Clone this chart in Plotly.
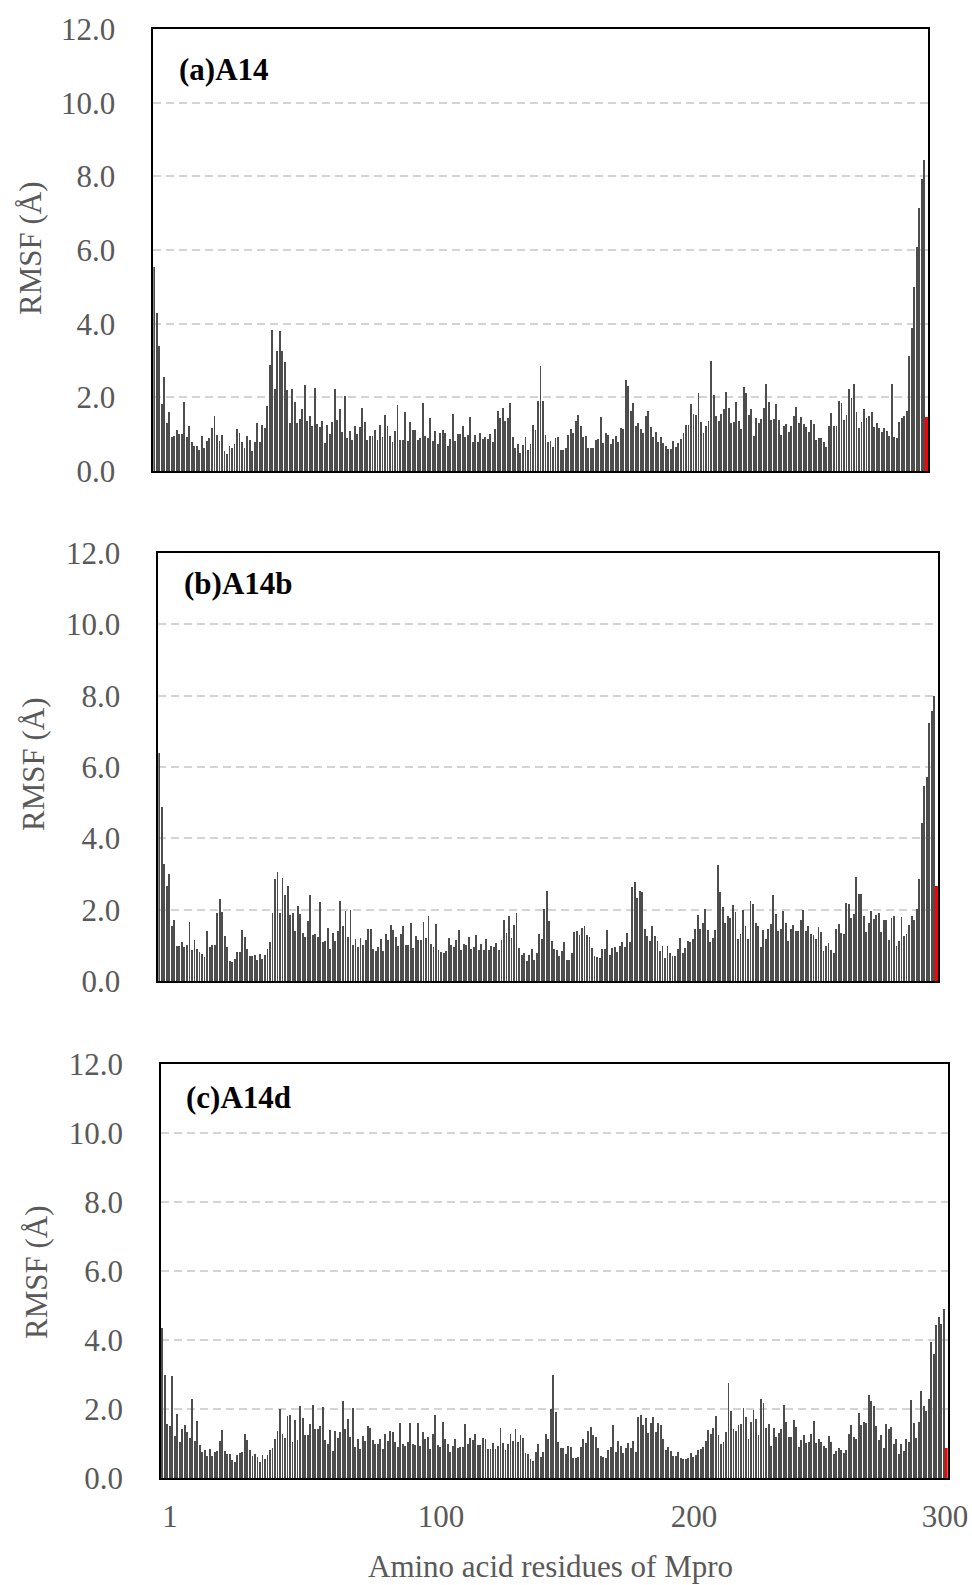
import plotly.graph_objects as go

# ---------------- data (RMSF, Å) ----------------
panel_titles = ["(a)A14", "(b)A14b", "(c)A14d"]
y_title = "RMSF (Å)"
x_title = "Amino acid residues of Mpro"
y_ticks = [0, 2, 4, 6, 8, 10, 12]
x_tick_labels = ["1", "100", "200", "300"]

rmsf_a14 = [
    5.55, 4.30, 3.40,
    1.81, 2.56, 1.30, 1.61, 0.91, 0.94, 1.11, 1.00, 1.00, 1.87, 0.91, 1.22, 0.80, 0.69, 0.67, 0.58, 0.95, 0.63,
    0.82, 0.89, 1.17, 1.50, 0.97, 0.81, 0.98, 0.54, 0.47, 0.67, 0.63, 0.72, 1.14, 1.02, 0.79, 0.62, 0.96, 0.83,
    0.54, 0.79, 1.30, 0.79, 1.25, 1.18, 1.76, 2.88, 3.83, 2.22, 3.27, 3.80, 3.27, 2.96, 2.19, 1.29, 2.22, 1.88,
    1.29, 1.41, 1.68, 2.33, 1.36, 1.49, 1.22, 2.24, 1.27, 1.20, 1.37, 0.76, 1.26, 1.01, 1.33, 2.23, 1.39, 1.67,
    1.07, 2.03, 0.89, 1.09, 0.83, 1.22, 1.01, 1.20, 1.71, 1.33, 0.84, 0.95, 0.95, 1.11, 0.83, 1.25, 0.93, 1.51,
    1.22, 0.95, 0.78, 1.09, 1.79, 0.84, 0.83, 1.61, 0.82, 1.33,
    1.12, 1.11, 0.83, 0.90, 1.84, 0.96, 0.89, 1.45, 0.82, 1.08, 0.73, 1.02, 1.11, 1.02, 0.68, 0.87, 1.54, 0.82,
    1.01, 1.01, 1.23, 0.91, 0.98, 1.47, 0.79, 0.99, 0.79, 1.02, 0.86, 0.93, 0.86, 1.01, 0.79, 1.14, 1.64, 1.44,
    1.72, 1.36, 1.45, 1.85, 0.93, 0.63, 0.72, 0.50, 0.71, 0.93, 0.56, 0.74, 1.24, 1.12, 1.90, 2.84, 1.89, 0.99,
    0.79, 0.81, 0.64, 0.90, 0.93, 0.57, 0.57, 0.63, 0.99, 1.15, 1.02, 1.36, 1.51, 1.21, 0.93, 0.96, 0.63, 0.63,
    0.63, 0.84, 0.87, 1.47, 0.75, 1.02, 0.97, 0.74, 0.87, 0.95, 0.78, 1.17, 1.15, 2.48, 2.31, 1.62, 1.84, 1.22,
    1.30, 1.15, 1.04, 1.50, 1.62, 1.20, 0.93, 1.06, 0.79, 0.93, 0.75, 0.68, 0.59,
    0.59, 0.82, 0.66, 0.76, 0.88, 1.03, 1.25, 1.25, 1.83, 1.54, 1.51, 2.12, 1.32, 1.02, 1.22, 1.35, 2.99, 2.06,
    1.48, 1.35, 1.55, 1.68, 2.15, 1.71, 1.30, 1.33, 1.88, 1.35, 1.14, 2.29, 2.11, 1.52, 1.69, 0.95, 1.44, 1.29,
    1.42, 1.71, 2.37, 1.86, 1.39, 1.42, 1.83, 1.39, 0.98, 1.22, 1.27, 1.05, 1.22, 1.49, 1.74, 1.29, 1.46, 1.27,
    1.20, 1.06, 1.38, 1.27, 0.85, 0.89, 0.89, 0.78, 0.65, 1.23, 1.58, 1.22, 1.23, 1.90, 1.85, 1.39, 1.52, 2.23,
    1.97, 2.37, 1.60, 1.17, 1.33, 1.69, 1.45, 1.50, 1.61, 1.19, 1.30, 1.18, 1.05, 1.18, 1.09, 0.94, 2.37, 0.93,
    0.90, 1.32, 1.45, 1.48, 1.63, 3.11, 3.87, 4.99, 6.08, 7.14, 7.94, 8.44,
]
ligand_a14 = 1.47

rmsf_a14b = [
    6.40, 4.87,
    3.29, 2.66, 3.01, 1.53, 1.72, 0.98, 0.98, 1.10, 0.96, 1.02, 1.66, 0.86, 1.15, 0.90, 0.80, 0.76, 0.68, 1.41,
    0.95, 1.00, 1.01, 1.92, 2.29, 1.93, 1.27, 0.96, 0.57, 0.52, 0.63, 0.80, 0.82, 1.42, 1.22, 0.89, 0.69, 0.69,
    0.72, 0.59, 0.76, 0.63, 0.72, 0.91, 1.08, 1.92, 2.85, 3.05, 1.90, 2.90, 2.40, 2.66, 1.84, 1.90, 1.39, 2.09,
    1.87, 1.35, 1.22, 1.67, 2.40, 1.29, 1.32, 1.22, 2.21, 1.08, 1.13, 1.48, 0.91, 1.35, 1.11, 1.40, 2.23, 1.54,
    1.97, 1.23, 1.98, 1.00, 1.18, 0.94, 1.20, 1.01, 1.15, 1.46, 1.45, 0.90, 0.85, 0.95, 1.18, 0.85, 1.33, 1.14,
    1.56, 1.42, 1.22, 0.98, 1.32, 1.53, 1.02, 1.00, 1.63, 0.93,
    1.27, 1.15, 1.15, 1.66, 1.21, 1.83, 1.05, 0.94, 1.61, 0.87, 0.80, 0.78, 0.84, 1.21, 1.00, 0.94, 1.16, 1.44,
    0.86, 1.05, 1.00, 1.22, 0.89, 0.96, 1.28, 0.88, 1.03, 0.88, 1.17, 0.86, 0.97, 0.94, 1.06, 0.87, 1.15, 1.70,
    1.35, 1.81, 1.20, 1.56, 1.91, 0.92, 0.73, 0.79, 0.56, 0.73, 0.90, 0.58, 0.79, 1.31, 1.17, 2.01, 2.51, 1.69,
    1.11, 0.89, 0.87, 0.69, 0.84, 1.10, 0.60, 0.60, 0.79, 1.37, 1.41, 1.28, 1.50, 1.53, 1.28, 1.22, 0.93, 0.71,
    0.68, 0.65, 0.90, 0.91, 1.43, 0.74, 0.93, 0.96, 0.80, 0.98, 1.09, 0.96, 1.35, 1.08, 2.64, 2.77, 2.32, 2.51,
    2.49, 1.46, 1.26, 1.13, 1.53, 1.25, 1.13, 0.83, 0.97, 0.64, 0.97, 0.78, 0.69,
    0.69, 0.90, 1.21, 0.78, 0.93, 1.12, 1.09, 1.18, 1.46, 1.85, 1.46, 1.64, 2.02, 1.42, 1.09, 1.20, 1.42, 3.25,
    2.50, 2.08, 1.63, 1.82, 1.78, 2.13, 1.94, 1.17, 1.33, 2.00, 1.53, 1.17, 2.23, 2.16, 1.62, 1.55, 0.95, 1.43,
    1.17, 1.45, 1.60, 2.41, 1.88, 1.41, 1.45, 1.97, 1.63, 1.13, 1.47, 1.57, 1.41, 1.41, 1.70, 2.00, 1.40, 1.55,
    1.32, 1.30, 1.18, 1.52, 1.38, 0.84, 0.99, 1.07, 0.88, 0.79, 1.45, 1.60, 1.35, 1.32, 2.19, 2.17, 1.77, 1.88,
    2.91, 2.45, 2.44, 1.83, 1.36, 1.63, 1.96, 1.75, 1.84, 1.90, 1.37, 1.71, 1.71, 1.14, 1.76, 1.82, 0.99, 1.13,
    1.80, 1.25, 1.31, 1.57, 1.82, 1.72, 2.03, 2.86, 4.42, 5.48, 5.71, 7.23, 7.56, 8.00,
]
ligand_a14b = 2.65

rmsf_a14d = [
    4.35, 3.00, 1.57, 1.51, 2.97, 1.22, 1.86, 1.04, 1.44, 1.55, 1.34, 1.16, 2.30, 1.07, 1.66, 0.96, 0.75, 0.81,
    0.65, 0.84, 0.64, 0.75, 0.78, 1.08, 1.40, 0.78, 0.71, 0.71, 0.54, 0.48, 0.67, 0.72, 0.76, 1.28, 1.10, 0.81,
    0.66, 0.69, 0.61, 0.47, 0.68, 0.56, 0.68, 0.82, 0.89, 1.14, 1.37, 2.00, 1.29, 1.17, 1.81, 1.83, 1.05, 1.69,
    1.10, 2.09, 1.76, 1.26, 1.26, 1.57, 2.12, 1.42, 1.42, 1.51, 2.06, 1.11, 0.98, 1.40, 0.79, 1.38, 1.16, 1.35,
    2.24, 1.44, 1.71, 1.21, 2.03, 0.92, 1.15, 0.86, 1.23, 1.08, 1.51, 1.47, 1.11, 0.98, 1.00, 1.14, 0.85, 1.29,
    1.08, 1.38, 1.33, 1.05, 0.91, 1.59, 1.00, 0.95, 1.06,
    1.59, 1.00, 0.97, 1.60, 0.93, 1.34, 1.15, 1.21, 0.86, 1.27, 1.84, 0.97, 0.90, 1.62, 1.13, 1.00, 0.75, 0.94,
    1.13, 0.89, 0.91, 0.91, 1.57, 1.00, 1.16, 1.11, 1.28, 0.97, 0.96, 1.16, 1.13, 0.86, 0.84, 1.02, 0.85, 0.94,
    1.45, 1.03, 0.82, 1.00, 1.29, 1.09, 1.43, 1.05, 1.26, 1.17, 0.72, 0.71, 0.57, 0.50, 0.77, 0.98, 0.61, 0.76,
    1.28, 1.13, 2.00, 3.00, 1.92, 1.05, 0.88, 0.88, 0.70, 0.93, 0.92, 0.59, 0.59, 0.62, 0.91, 1.13, 1.01, 1.38,
    1.49, 1.24, 1.19, 0.87, 0.66, 0.62, 0.58, 0.83, 0.91, 1.55, 0.75, 1.08, 0.94, 0.73, 0.88, 1.03, 0.88, 1.08,
    0.77, 1.79, 1.84, 1.55, 1.75, 1.31, 1.60, 1.77, 1.34, 1.59, 1.53, 1.14, 0.82, 0.91, 0.80, 0.66,
    0.65, 0.77, 0.58, 0.56, 0.57, 0.60, 0.73, 0.63, 0.68, 0.81, 0.86, 0.91, 1.08, 1.40, 1.28, 1.47, 1.81, 1.25,
    0.98, 1.04, 1.34, 2.76, 1.95, 1.42, 1.36, 1.53, 1.57, 2.04, 1.78, 1.14, 1.63, 1.98, 1.73, 1.26, 2.30, 2.19,
    1.47, 1.56, 0.95, 1.46, 1.19, 1.32, 1.43, 2.13, 1.63, 1.19, 1.19, 1.69, 1.50, 0.91, 1.12, 1.24, 1.02, 1.05,
    1.29, 1.66, 1.03, 1.14, 1.04, 0.94, 0.89, 1.22, 1.04, 0.69, 0.79, 0.88, 0.81, 0.73, 0.82, 1.29, 1.53, 1.21,
    1.14, 1.89, 1.55, 1.62, 1.61, 2.42, 2.25, 2.08, 1.52, 1.11, 1.26, 0.87, 1.56, 1.43, 1.49, 1.00, 1.13, 0.71,
    1.00, 0.80, 1.13, 1.05, 2.28, 1.60, 1.16, 1.64, 2.53, 2.10, 1.95, 2.29, 3.94, 3.61, 4.43, 4.66, 4.46, 4.91,
]
ligand_a14d = 0.87

# ---------------- layout geometry (screen pixels) ----------------
W, H = 972, 1585

# (left, right, top, bottom) of each plot frame, in screen pixels
boxes = [(153.3, 928.3, 29.0, 471.0),
         (158.3, 938.3, 553.0, 981.0),
         (161.0, 947.7, 1064.0, 1478.3)]
title_pos = [(177, 70), (182, 583), (184, 1097)]
ytitle_pos = [(30, 248), (33, 764), (36, 1272)]
xtick_px = [170, 441, 694, 945]


def px(xs):
    return xs / W


def py(ys):
    return 1 - ys / H


SERIF = "Liberation Serif"
GRAY = "#595959"
FS = 31

series = [(rmsf_a14, ligand_a14), (rmsf_a14b, ligand_a14b), (rmsf_a14d, ligand_a14d)]

fig = go.Figure()
layout = dict(
    width=W, height=H,
    margin=dict(l=0, r=0, t=0, b=0, pad=0, autoexpand=False),
    paper_bgcolor="white", plot_bgcolor="white",
    showlegend=False,
    bargap=0,
    annotations=[],
)

for i, ((vals, lig), (l, r, t, b)) in enumerate(zip(series, boxes)):
    n = len(vals) + 1
    xs = list(range(1, n + 1))
    ys = list(vals) + [lig]
    colors = ["#4d4d4d"] * len(vals) + ["#ff0000"]
    widths = [0.36] * len(vals) + [1.0]
    sfx = "" if i == 0 else str(i + 1)
    fig.add_trace(go.Bar(
        x=xs, y=ys, width=widths,
        marker=dict(color=colors, line=dict(width=0)),
        xaxis="x" + sfx, yaxis="y" + sfx, hoverinfo="x+y",
    ))
    xa = dict(
        domain=[px(l), px(r)], anchor="y" + sfx, automargin=False,
        range=[0.5, n + 0.5],
        showgrid=False, zeroline=False,
        showline=True, mirror=True, linecolor="black", linewidth=1.6,
        ticks="", showticklabels=False,
    )
    if i == 2:
        span = r - l
        tv = [min(0.5 + (p - l) / span * n, n + 0.49) for p in xtick_px]
        xa.update(showticklabels=True, tickmode="array", tickvals=tv, ticktext=x_tick_labels,
                  tickfont=dict(family=SERIF, size=FS, color=GRAY), ticklabelstandoff=10,
                  ticklabeloverflow="allow")
    ya = dict(
        domain=[py(b), py(t)], anchor="x" + sfx, automargin=False,
        range=[0, 12], tickmode="array", tickvals=y_ticks, tickformat=".1f",
        showgrid=True, gridcolor="#d4d4d4", gridwidth=1.5, griddash="8px,5px",
        zeroline=False, showline=True, mirror=True, linecolor="black", linewidth=1.6,
        ticks="", tickfont=dict(family=SERIF, size=FS, color=GRAY), ticklabelstandoff=30,
    )
    layout["xaxis" + sfx] = xa
    layout["yaxis" + sfx] = ya

    tx, ty = title_pos[i]
    layout["annotations"].append(dict(
        text="<b>" + panel_titles[i] + "</b>", xref="paper", yref="paper",
        x=px(tx), y=py(ty), xanchor="left", yanchor="middle", showarrow=False,
        font=dict(family=SERIF, size=31, color="black"),
    ))
    yx, yy = ytitle_pos[i]
    layout["annotations"].append(dict(
        text=y_title, xref="paper", yref="paper", textangle=-90,
        x=px(yx), y=py(yy), xanchor="center", yanchor="middle", showarrow=False,
        font=dict(family=SERIF, size=FS, color=GRAY),
    ))

layout["annotations"].append(dict(
    text=x_title, xref="paper", yref="paper",
    x=px(550), y=py(1566), xanchor="center", yanchor="middle", showarrow=False,
    font=dict(family=SERIF, size=FS, color=GRAY),
))

fig.update_layout(**layout)
fig.write_html(
    "out.html",
    config={"displayModeBar": False},
    post_script="document.body.style.margin='0';document.body.style.overflow='hidden';"
                "document.documentElement.style.overflow='hidden';",
)
